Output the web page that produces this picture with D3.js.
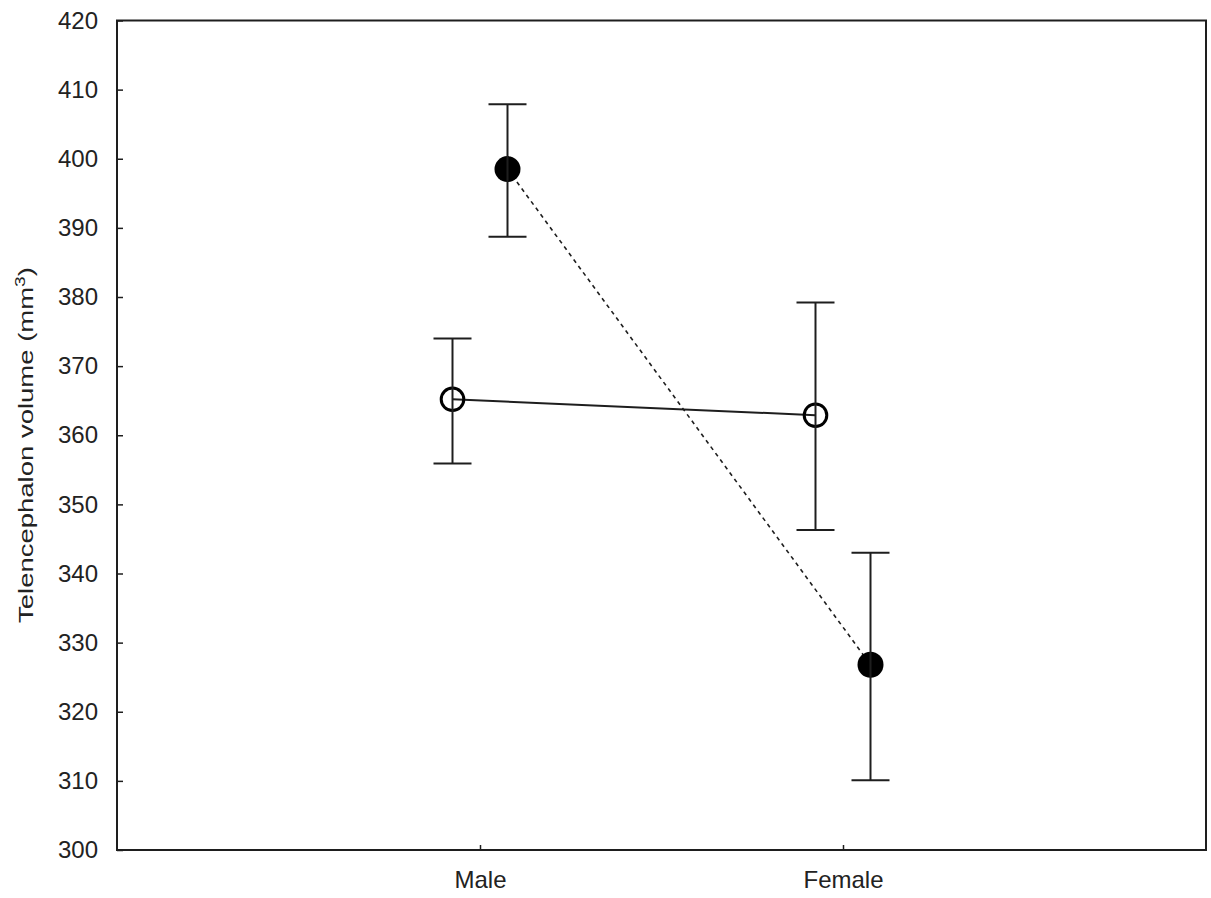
<!DOCTYPE html>
<html>
<head>
<meta charset="utf-8">
<script src="https://cdn.jsdelivr.net/npm/d3@7"></script>
<style>
  html, body { margin: 0; padding: 0; background: #fff; }
  svg { display: block; }
  text { font-family: "Liberation Sans", Arial, sans-serif; fill: #222; }
</style>
</head>
<body>
<svg id="chart" width="1211" height="898"></svg>
<script>
// Categories and tick values
const categories = ["Male", "Female"];
const yTicks = [300, 310, 320, 330, 340, 350, 360, 370, 380, 390, 400, 410, 420];

// Group drawn with open circles and solid line: mean, upper, lower
const openMean  = [365.2, 362.9];
const openUpper = [374.0, 379.2];
const openLower = [355.9, 346.3];

// Group drawn with filled circles and dashed line: mean, upper, lower
const filledMean  = [398.5, 326.8];
const filledUpper = [407.9, 343.0];
const filledLower = [388.7, 310.1];

const svg = d3.select("#chart");
const plotLeft = 117, plotRight = 1206, plotTop = 20.5, plotBottom = 850;

const x = d3.scalePoint().domain(categories).range([plotLeft, plotRight]).padding(1);
const y = d3.scaleLinear().domain([300, 420]).range([plotBottom, plotTop]);

const dark = "#1e1e1e";

// Frame
svg.append("rect")
  .attr("x", plotLeft).attr("y", plotTop)
  .attr("width", plotRight - plotLeft).attr("height", plotBottom - plotTop)
  .attr("fill", "none").attr("stroke", dark).attr("stroke-width", 2);

// Y axis ticks (inside) and labels
const yAxis = d3.axisLeft(y).tickValues(yTicks).tickSizeInner(-6).tickSizeOuter(0).tickPadding(19);
const gy = svg.append("g").attr("transform", `translate(${plotLeft},0)`).call(yAxis);
gy.select(".domain").remove();
gy.selectAll(".tick line").attr("stroke", dark).attr("stroke-width", 1.5);
gy.selectAll(".tick text")
  .attr("font-size", 24).attr("fill", "#222")
  .style("font-family", "'Liberation Sans', Arial, sans-serif");

// X axis ticks (inside) and labels
const xAxis = d3.axisBottom(x).tickSizeInner(-5).tickSizeOuter(0).tickPadding(21);
const gx = svg.append("g").attr("transform", `translate(0,${plotBottom})`).call(xAxis);
gx.select(".domain").remove();
gx.selectAll(".tick line").attr("stroke", dark).attr("stroke-width", 1.5);
gx.selectAll(".tick text")
  .attr("font-size", 24).attr("fill", "#222")
  .style("font-family", "'Liberation Sans', Arial, sans-serif");

// Y axis title
const title = svg.append("text")
  .attr("transform", `translate(33,${(266 + 624) / 2}) rotate(-90)`)
  .attr("text-anchor", "middle")
  .attr("font-size", 20)
  .attr("textLength", 356)
  .attr("lengthAdjust", "spacingAndGlyphs");
title.append("tspan").text("Telencephalon volume (mm");
title.append("tspan").attr("dy", -8).attr("font-size", 14).text("3");
title.append("tspan").attr("dy", 8).text(")");

// Draw one group: connecting line, markers, error bars
function drawGroup(mean, upper, lower, offset, filled) {
  const pts = categories.map((c, i) => ({
    cx: x(c) + offset, m: mean[i], hi: upper[i], lo: lower[i]
  }));
  const g = svg.append("g");

  g.append("path")
    .datum(pts)
    .attr("fill", "none")
    .attr("stroke", dark)
    .attr("stroke-width", filled ? 1.6 : 2)
    .attr("stroke-dasharray", filled ? "4,4" : null)
    .attr("d", d3.line().x(d => d.cx).y(d => y(d.m)));

  g.selectAll("circle.marker")
    .data(pts).enter().append("circle")
    .attr("class", "marker")
    .attr("cx", d => d.cx).attr("cy", d => y(d.m))
    .attr("r", filled ? 13 : 11.3)
    .attr("fill", filled ? "#000" : "none")
    .attr("stroke", "#000")
    .attr("stroke-width", filled ? 0 : 3);

  const cap = 19;
  const eb = g.selectAll("g.err").data(pts).enter().append("g").attr("class", "err")
    .attr("stroke", dark).attr("stroke-width", 2);
  eb.append("line")
    .attr("x1", d => d.cx).attr("x2", d => d.cx)
    .attr("y1", d => y(d.hi)).attr("y2", d => y(d.lo));
  eb.append("line")
    .attr("x1", d => d.cx - cap).attr("x2", d => d.cx + cap)
    .attr("y1", d => y(d.hi)).attr("y2", d => y(d.hi));
  eb.append("line")
    .attr("x1", d => d.cx - cap).attr("x2", d => d.cx + cap)
    .attr("y1", d => y(d.lo)).attr("y2", d => y(d.lo));
}

drawGroup(openMean, openUpper, openLower, -27.5, false);
drawGroup(filledMean, filledUpper, filledLower, 27.5, true);
</script>
</body>
</html>
